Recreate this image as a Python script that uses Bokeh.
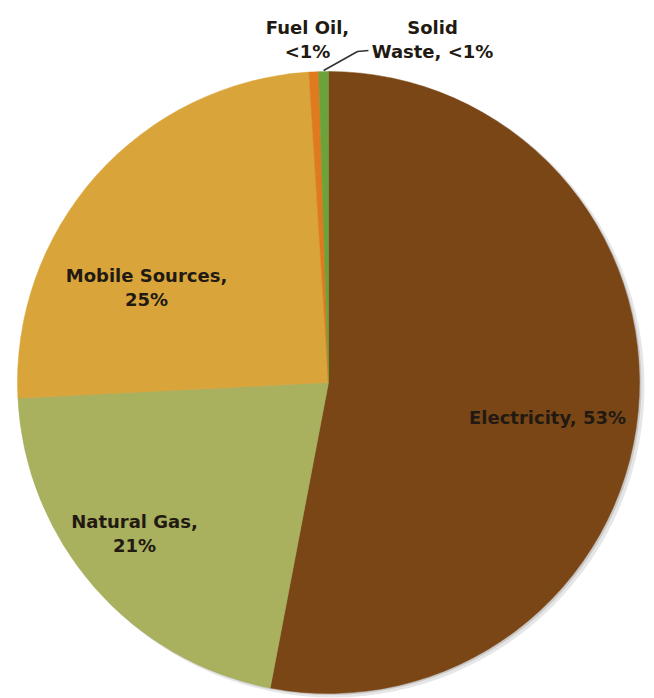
import math
from bokeh.plotting import figure
from bokeh.models import Range1d, ColumnDataSource
from bokeh.core.properties import value
from bokeh.embed import file_html
from bokeh.resources import INLINE

# ---- data ----
categories = ["Electricity", "Natural Gas", "Mobile Sources", "Fuel Oil", "Solid Waste"]
shares = [53.0, 21.2, 24.8, 0.5, 0.5]
label_texts = ["Electricity, 53%", "Natural Gas,\n21%", "Mobile Sources,\n25%", "Fuel Oil,\n<1%", "Solid\nWaste, <1%"]
colors = ["#7A4616", "#A9B05E", "#D9A53B", "#E07A1F", "#6DA23B"]

W, H = 654, 698
CX, CY_PIX, R = 328, 382, 311
def Y(ypix):
    return H - ypix

p = figure(width=W, height=H, output_backend="svg", toolbar_location=None,
           x_range=Range1d(0, W), y_range=Range1d(0, H),
           x_axis_type=None, y_axis_type=None, min_border=0,
           background_fill_color="white", border_fill_color="white")
p.outline_line_color = None
p.grid.visible = False

# soft shadow
p.circle(x=[CX + 4], y=[Y(CY_PIX) - 3], radius=R + 1, fill_color="#e6e6e6", line_color=None)
p.circle(x=[CX + 2], y=[Y(CY_PIX) - 1.5], radius=R, fill_color="#c9c9c9", line_color=None)

total = sum(shares)
starts, ends = [], []
cum = 0.0
for s in shares:
    starts.append(math.pi / 2 - 2 * math.pi * cum / total)
    cum += s
    ends.append(math.pi / 2 - 2 * math.pi * cum / total)

src = ColumnDataSource(dict(cat=categories, start=starts, end=ends, color=colors))
p.wedge(x=CX, y=Y(CY_PIX), radius=R, start_angle="start", end_angle="end",
        direction="clock", fill_color="color", line_color="color", line_width=0.5, source=src)

# label positions (pixel centre x, first-line baseline y)
label_pos = {
    "Electricity": (547, 417),
    "Natural Gas": (134, 521),
    "Mobile Sources": (146, 275),
    "Fuel Oil": (307, 27),
    "Solid Waste": (432, 27),
}
LINE = 24
tx, ty, tt = [], [], []
for cat, lab in zip(categories, label_texts):
    x0, y0 = label_pos[cat]
    for i, line in enumerate(lab.split("\n")):
        tx.append(x0)
        ty.append(Y(y0 + i * LINE))
        tt.append(line)
p.text(x=tx, y=ty, text=tt, text_align="center", text_baseline="alphabetic",
       text_font=value("DejaVu Sans"), text_font_style="bold", text_font_size="18px",
       text_color="#221a12")

# leader line for Solid Waste
cum_sw = sum(shares[:4]) + shares[4] / 2
ang = 2 * math.pi * cum_sw / total
ex = CX + R * math.sin(ang)
ey = CY_PIX - R * math.cos(ang)
p.line(x=[368, 357, ex], y=[Y(50), Y(51), Y(ey - 1)], line_color="#333333", line_width=1.6)

open("out.html", "w").write(file_html(p, INLINE))
